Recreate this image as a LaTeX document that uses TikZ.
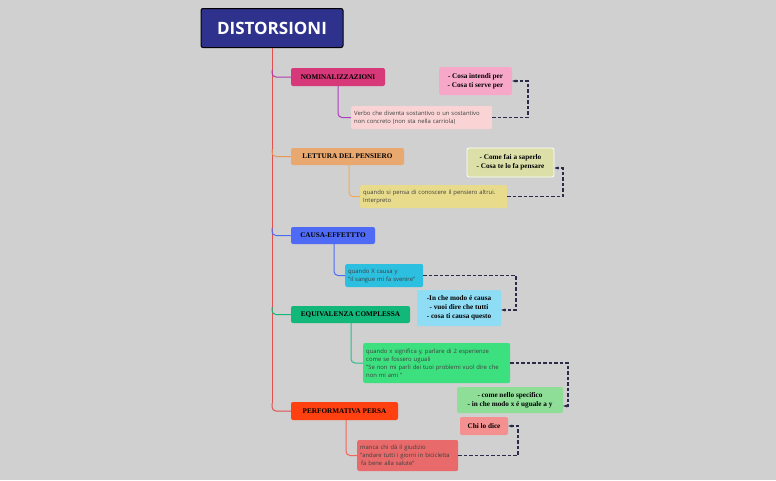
\documentclass[tikz,border=0pt]{standalone}
\usepackage{fontspec}
\setmainfont{Liberation Serif}
\setsansfont{Open Sans}
\usetikzlibrary{arrows.meta}
\definecolor{bg}{HTML}{D0D0D0}
\definecolor{trunk}{HTML}{E05050}
\definecolor{dk}{HTML}{2A2A4A}
\begin{document}
\begin{tikzpicture}[x=1pt,y=-1pt,
  topic/.style={rounded corners=2pt,inner sep=0pt,font=\fontsize{7.2}{8}\selectfont\bfseries,text=black},
  child/.style={rounded corners=2pt,inner ysep=0pt,inner xsep=3pt,font=\sffamily\fontsize{5.9}{8}\selectfont,text=black!75,align=left,anchor=west,text width=#1},
  side/.style={rounded corners=2pt,inner sep=0pt,font=\fontsize{7.2}{9}\selectfont\bfseries,align=center},
  dsh/.style={dash pattern=on 3.5pt off 2pt,line width=1.1pt,draw=dk,-{Stealth[length=4pt]}},
  conn/.style={line width=1pt,rounded corners=4pt}]
\fill[bg] (0,0) rectangle (776,480);
\useasboundingbox (0,0) rectangle (776,480);
% title
\node[draw=black,line width=1pt,fill={rgb,255:red,46;green,50;blue,140},rounded corners=2pt,minimum width=142pt,minimum height=39pt,text=white,font=\sffamily\fontsize{17}{17}\selectfont\bfseries] (title) at (272,28) {DISTORSIONI};
\draw[trunk,line width=1pt] (title.south) -- (272,403);
% topics
\node[topic,fill={rgb,255:red,214;green,56;blue,122},minimum width=94pt,minimum height=18pt] (n1) at (338,77) {NOMINALIZZAZIONI};
\node[topic,fill={rgb,255:red,232;green,168;blue,112},minimum width=113pt,minimum height=17pt] (n2) at (347.5,156.5) {LETTURA DEL PENSIERO};
\node[topic,fill={rgb,255:red,79;green,107;blue,245},minimum width=84pt,minimum height=17pt] (n3) at (333,235.5) {CAUSA-EFFETTTO};
\node[topic,fill={rgb,255:red,18;green,184;blue,122},minimum width=119pt,minimum height=17pt] (n4) at (350.5,314.5) {EQUIVALENZA COMPLESSA};
\node[topic,fill={rgb,255:red,255;green,64;blue,16},minimum width=107pt,minimum height=18pt] (n5) at (344.5,411) {PERFORMATIVA PERSA};
% trunk branches
\draw[conn,draw={rgb,255:red,180;green,60;blue,170}] (272,70) |- (n1.west);
\draw[conn,draw={rgb,255:red,232;green,150;blue,90}] (272,149) |- (n2.west);
\draw[conn,draw={rgb,255:red,79;green,107;blue,245}] (272,228) |- (n3.west);
\draw[conn,draw={rgb,255:red,18;green,184;blue,122}] (272,307) |- (n4.west);
\draw[conn,draw=trunk] (272,403) |- (n5.west);
% children
\node[child=135pt,fill={rgb,255:red,250;green,212;blue,212},minimum height=23pt] (c1) at (351,117.5) {Verbo che diventa sostantivo o un sostantivo\\non concreto (non sta nella carriola)};
\node[child=141pt,fill={rgb,255:red,232;green,220;blue,140},minimum height=23pt] (c2) at (360,196.5) {quando si pensa di conoscere il pensiero altrui.\\Interpreto};
\node[child=72pt,fill={rgb,255:red,44;green,191;blue,224},minimum height=23pt] (c3) at (345,275.5) {quando X causa y\\"il sangue mi fa svenire"};
\node[child=141pt,fill={rgb,255:red,61;green,224;blue,126},minimum height=40pt] (c4) at (363,363) {quando x significa y, parlare di 2 esperienze\\come se fossero uguali\\"Se non mi parli dei tuoi problemi vuol dire che\\non mi ami "};
\node[child=95pt,fill={rgb,255:red,232;green,106;blue,106},minimum height=31pt] (c5) at (357,455.5) {manca chi dà il giudizio\\"andare tutti i giorni in bicicletta\\\hspace*{1pt}fa bene alla salute"};
\draw[conn,draw={rgb,255:red,170;green,60;blue,190}] (338,86) |- (c1.west);
\draw[conn,draw={rgb,255:red,245;green,170;blue,80}] (349,165) |- (c2.west);
\draw[conn,draw={rgb,255:red,79;green,107;blue,245}] (334,244) |- (c3.west);
\draw[conn,draw={rgb,255:red,40;green,190;blue,140}] (351,323) |- (c4.west);
\draw[conn,draw={rgb,255:red,245;green,100;blue,90}] (346,420) |- (c5.west);
% side notes
\node[side,fill={rgb,255:red,247;green,168;blue,201},minimum width=73pt,minimum height=28pt] (s1) at (475.5,81) {- Cosa intendi per\\- Cosa ti serve per};
\node[side,fill={rgb,255:red,220;green,224;blue,168},draw=white,line width=0.8pt,minimum width=87pt,minimum height=29pt] (s2) at (510.5,162.5) {- Come fai a saperlo\\- Cosa te lo fa pensare};
\node[side,fill={rgb,255:red,143;green,220;blue,245},minimum width=84pt,minimum height=36pt] (s3) at (459,308) {-In che modo é causa\\- vuoi dire che tutti\\- cosa ti causa questo};
\node[side,fill={rgb,255:red,142;green,222;blue,152},minimum width=106pt,minimum height=26pt] (s4) at (510,400) {- come nello specifico\\- in che modo x é uguale a y};
\node[side,fill={rgb,255:red,245;green,144;blue,144},minimum width=48pt,minimum height=18pt] (s5) at (484,426) {Chi lo dice};
% dashed
\draw[dsh] (c1.east) -- (528,117.5) |- (s1.east);
\draw[dsh] (c2.east) -| (563,168) -- (s2.east|-0,168);
\draw[dsh] (c3.east) -| (516,310) -- (s3.east|-0,310);
\draw[dsh] (c4.east) -| (568,406) -- (s4.east|-0,406);
\draw[dsh] (c5.east) -| (518,426) -- (s5.east);
\end{tikzpicture}
\end{document}
